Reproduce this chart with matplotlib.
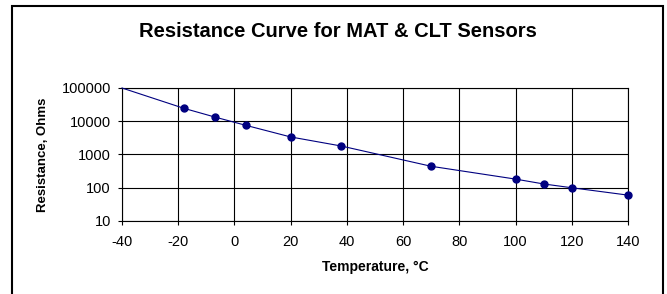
import matplotlib.pyplot as plt
from matplotlib.patches import Rectangle
from matplotlib.ticker import FixedLocator, NullLocator

plt.rcParams['font.family'] = ['Liberation Sans', 'DejaVu Sans']
plt.rcParams['axes.unicode_minus'] = False

# Sensor data (first point is the line start without a marker)
temps = [-40, -18, -7, 4, 20, 38, 70, 100, 110, 120, 140]
resistance = [100000, 24500, 13400, 7560, 3370, 1800, 442, 182, 130, 100, 60]

x_ticks = [-40, -20, 0, 20, 40, 60, 80, 100, 120, 140]
y_ticks = [10, 100, 1000, 10000, 100000]
y_tick_labels = ["10", "100", "1000", "10000", "100000"]

fig = plt.figure(figsize=(6.67, 2.94), dpi=100)
ax = fig.add_axes([0.1829, 0.2483, 0.7586, 0.4524])

ax.plot(temps, resistance, color='#000080', lw=0.8, marker='o', ms=5,
        markevery=list(range(1, len(temps))), zorder=3, clip_on=False)

ax.set_yscale('log')
ax.set_xlim(-40, 140)
ax.set_ylim(10, 100000)
ax.xaxis.set_major_locator(FixedLocator(x_ticks))
ax.yaxis.set_major_locator(FixedLocator(y_ticks))
ax.yaxis.set_minor_locator(NullLocator())
ax.set_yticklabels(y_tick_labels)
ax.tick_params(axis='both', direction='out', length=3, width=0.8, labelsize=10.5, colors='black')
ax.tick_params(axis='x', pad=7)
ax.tick_params(axis='y', pad=5)
ax.grid(True, color='black', lw=0.8)
for s in ax.spines.values():
    s.set_linewidth(0.8)
    s.set_color('black')

ax.set_xlabel("Temperature, °C", fontsize=10, fontweight='bold', labelpad=8)
ax.set_ylabel("Resistance, Ohms", fontsize=9.5, fontweight='bold', labelpad=9)
fig.text(0.506, 0.893, "Resistance Curve for MAT & CLT Sensors", ha='center', va='center',
         fontsize=14.5, fontweight='bold')

# outer chart frame
fig.patches.append(Rectangle((12 / 667, -0.1), 651 / 667, 1.1 - 6 / 294, transform=fig.transFigure,
                             fill=False, edgecolor='black', lw=1.5))

fig.savefig("out.png", dpi=100)
